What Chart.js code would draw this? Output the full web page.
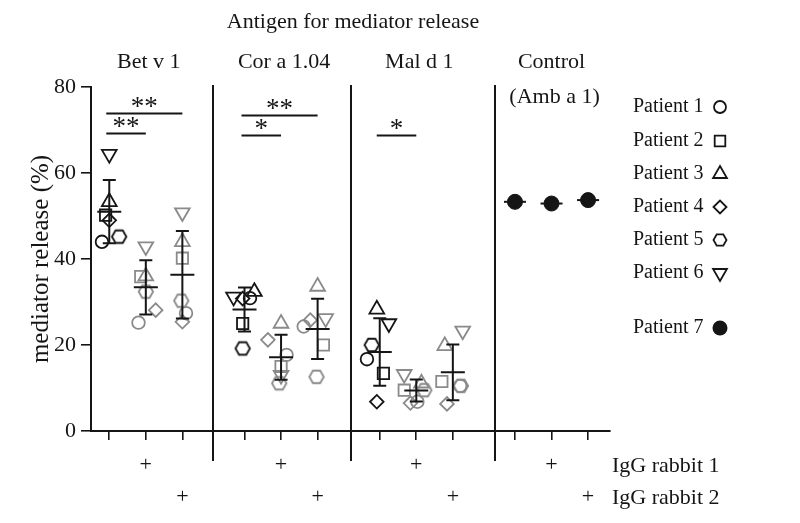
<!DOCTYPE html>
<html><head><meta charset="utf-8">
<script src="https://cdn.jsdelivr.net/npm/chart.js@4.4.1/dist/chart.umd.min.js"></script>
<style>html,body{margin:0;padding:0;background:#fff}#wrap{width:800px;height:523px;position:relative}</style>
</head><body><div id="wrap"><canvas id="c" width="800" height="523"></canvas></div>
<script>
// ---------------- data ----------------
const chartTitle = 'Antigen for mediator release';
const antigens = ['Bet v 1', 'Cor a 1.04', 'Mal d 1'];
const controlLabel = ['Control', '(Amb a 1)'];
const yAxisLabel = 'mediator release (%)';
const yTicks = [0, 20, 40, 60, 80];
const rabbitRows = ['IgG rabbit 1', 'IgG rabbit 2'];
const patientNames = ['Patient 1', 'Patient 2', 'Patient 3', 'Patient 4', 'Patient 5', 'Patient 6', 'Patient 7'];
// order of values: [Bet v 1: none, rabbit1, rabbit2, Cor a 1.04: none, r1, r2, Mal d 1: none, r1, r2]
const patient1 = [44.0, 25.2, 27.4, 30.9, 17.7, 24.3, 16.7, 6.8, 10.5];
const patient2 = [50.2, 35.9, 40.2, 25.0, 15.0, 20.0, 13.4, 9.5, 11.5];
const patient3 = [53.3, 36.0, 44.0, 32.4, 25.0, 33.6, 28.3, 11.1, 19.8];
const patient4 = [49.0, 28.1, 25.4, 30.8, 21.2, 25.8, 6.8, 6.5, 6.3];
const patient5 = [45.2, 32.4, 30.3, 19.2, 11.1, 12.6, 20.0, 9.5, 10.5];
const patient6 = [64.4, 42.9, 50.8, 31.2, 13.0, 26.2, 25.0, 13.2, 23.3];
const patient7Control = [53.3, 52.9, 53.7];
// significance brackets: group, from condition, to condition, label, height (%)
const sigGroup = [0, 0, 1, 1, 2];
const sigFrom = [0, 0, 0, 0, 0];
const sigTo = [2, 1, 2, 1, 1];
const sigText = ['**', '**', '**', '*', '*'];
const sigLevel = [74.0, 69.3, 73.5, 68.8, 68.8];

// ---------------- layout / style ----------------
const FONT = '"Liberation Serif", "Times New Roman", serif';
const BLACK = '#151515';
const GRAY = '#8a8a8a';
const GROUP_STEP = 3.7;
const DIVIDERS = [2.84, 6.6, 10.54];
// small horizontal jitter of the markers (x units)
const jitter = [
  [-0.2, -0.2, 0.1, 0.15, 0.15, -0.38, -0.35, 0.03, 0.2],
  [-0.1, -0.14, 0, -0.05, 0, 0.16, 0.1, -0.33, -0.3],
  [0, 0, 0, 0.27, 0, 0, -0.08, 0.14, -0.22],
  [0, 0.27, 0, -0.05, -0.36, -0.2, -0.08, -0.16, -0.16],
  [0.27, 0, -0.03, -0.05, -0.05, -0.03, -0.22, 0.22, 0.22],
  [0, 0, 0, -0.3, 0, 0.22, 0.25, -0.33, 0.27]
];
const xPos = (g, c) => g * GROUP_STEP + c;

function hexCanvas(color) {
  const c = document.createElement('canvas');
  const s = 18; c.width = s; c.height = s;
  const g = c.getContext('2d');
  g.strokeStyle = color; g.lineWidth = 1.8; g.beginPath();
  const r = 7.2;
  for (let k = 0; k < 6; k++) {
    const a = Math.PI / 3 * k;
    const px = s / 2 + r * Math.cos(a), py = s / 2 + r * Math.sin(a);
    k ? g.lineTo(px, py) : g.moveTo(px, py);
  }
  g.closePath(); g.stroke();
  return c;
}
const hexBlack = hexCanvas(BLACK), hexGray = hexCanvas(GRAY);

const series = [patient1, patient2, patient3, patient4, patient5, patient6];
const shapes = ['circle', 'rect', 'triangle', 'rectRot', 'hex', 'triangle'];
const radii = [6.3, 8, 8.5, 6.8, 7, 8.5];
const rotations = [0, 0, 0, 0, 0, 180];

const datasets = series.map((vals, i) => ({
  label: patientNames[i],
  data: vals.map((v, k) => ({ x: xPos(Math.floor(k / 3), k % 3) + jitter[i][k], y: v })),
  pointStyle: shapes[i] === 'hex' ? (ctx => (ctx.dataIndex % 3 === 0 ? hexBlack : hexGray)) : shapes[i],
  pointRotation: rotations[i],
  pointRadius: radii[i],
  pointHoverRadius: radii[i],
  pointBorderWidth: 1.8,
  pointBackgroundColor: 'rgba(0,0,0,0)',
  pointBorderColor: ctx => (ctx.dataIndex % 3 === 0 ? BLACK : GRAY),
  showLine: false
}));
datasets.push({
  label: patientNames[6],
  data: patient7Control.map((v, c) => ({ x: xPos(3, c), y: v })),
  pointStyle: 'circle', pointRadius: 7.5, pointHoverRadius: 7.5,
  pointBorderWidth: 1, pointBackgroundColor: BLACK, pointBorderColor: BLACK, showLine: false
});

const tickPositions = [];
for (let g = 0; g < 4; g++) for (let c = 0; c < 3; c++) tickPositions.push(xPos(g, c));
const plusLabels = [['', ''], ['+', ''], ['', '+']];

function drawMarker(ctx, shape, x, y, r, color, rot) {
  ctx.save();
  ctx.strokeStyle = color; ctx.lineWidth = 1.8; ctx.fillStyle = color;
  ctx.beginPath();
  if (shape === 'circle') ctx.arc(x, y, r, 0, Math.PI * 2);
  else if (shape === 'rect') { const s = r * Math.SQRT1_2; ctx.rect(x - s, y - s, 2 * s, 2 * s); }
  else if (shape === 'rectRot') { ctx.moveTo(x - r, y); ctx.lineTo(x, y - r); ctx.lineTo(x + r, y); ctx.lineTo(x, y + r); ctx.closePath(); }
  else if (shape === 'triangle') {
    const d = rot ? -1 : 1;
    ctx.moveTo(x, y - d * r); ctx.lineTo(x + r * 0.866, y + d * r * 0.5); ctx.lineTo(x - r * 0.866, y + d * r * 0.5); ctx.closePath();
  } else if (shape === 'hex') {
    for (let k = 0; k < 6; k++) { const a = Math.PI / 3 * k; const px = x + r * Math.cos(a), py = y + r * Math.sin(a); k ? ctx.lineTo(px, py) : ctx.moveTo(px, py); }
    ctx.closePath();
  }
  ctx.stroke();
  ctx.restore();
}

const decorations = {
  id: 'decorations',
  beforeDatasetsDraw(chart) {
    const { ctx, scales: { x, y } } = chart;
    ctx.save();
    ctx.strokeStyle = BLACK; ctx.lineWidth = 2;
    DIVIDERS.forEach(d => {
      const px = Math.round(x.getPixelForValue(d));
      ctx.beginPath(); ctx.moveTo(px, y.getPixelForValue(80) - 2); ctx.lineTo(px, y.getPixelForValue(0) + 30); ctx.stroke();
    });
    // control mean dashes
    ctx.lineWidth = 2;
    patient7Control.forEach((v, c) => {
      const px = x.getPixelForValue(xPos(3, c)), py = y.getPixelForValue(v);
      ctx.beginPath(); ctx.moveTo(px - 11, py); ctx.lineTo(px + 11, py); ctx.stroke();
    });
    ctx.restore();
  },
  afterDatasetsDraw(chart) {
    const { ctx, scales: { x, y } } = chart;
    ctx.save();
    ctx.strokeStyle = BLACK; ctx.lineWidth = 2;
    // mean ± SD error bars
    for (let k = 0; k < 9; k++) {
      const vals = series.map(s => s[k]);
      const n = vals.length;
      const mean = vals.reduce((a, b) => a + b, 0) / n;
      const sd = Math.sqrt(vals.reduce((a, b) => a + (b - mean) * (b - mean), 0) / (n - 1));
      const px = x.getPixelForValue(xPos(Math.floor(k / 3), k % 3));
      const pm = y.getPixelForValue(mean), pt = y.getPixelForValue(mean + sd), pb = y.getPixelForValue(mean - sd);
      ctx.beginPath();
      ctx.moveTo(px, pt); ctx.lineTo(px, pb);
      ctx.moveTo(px - 6.5, pt); ctx.lineTo(px + 6.5, pt);
      ctx.moveTo(px - 6.5, pb); ctx.lineTo(px + 6.5, pb);
      ctx.moveTo(px - 12, pm); ctx.lineTo(px + 12, pm);
      ctx.stroke();
    }
    // significance brackets
    ctx.fillStyle = BLACK;
    ctx.font = '27px ' + FONT; ctx.textAlign = 'center'; ctx.textBaseline = 'alphabetic';
    sigText.forEach((t, i) => {
      const x1 = x.getPixelForValue(xPos(sigGroup[i], sigFrom[i])) - 3;
      const x2 = x.getPixelForValue(xPos(sigGroup[i], sigTo[i]));
      const py = Math.round(y.getPixelForValue(sigLevel[i])) + 0.5;
      ctx.beginPath(); ctx.moveTo(x1, py); ctx.lineTo(x2, py); ctx.stroke();
      ctx.fillText(t, (x1 + x2) / 2, py + 1);
    });
    ctx.restore();
  },
  afterDraw(chart) {
    const { ctx, scales: { x } } = chart;
    ctx.save();
    ctx.fillStyle = BLACK;
    ctx.font = '22px ' + FONT; ctx.textAlign = 'center'; ctx.textBaseline = 'middle';
    ctx.fillText(chartTitle, 353, 22);
    antigens.forEach((a, g) => ctx.fillText(a, x.getPixelForValue(xPos(g, 1)) + 3, 62));
    ctx.fillText(controlLabel[0], x.getPixelForValue(xPos(3, 1)), 62);
    ctx.fillText(controlLabel[1], x.getPixelForValue(xPos(3, 1)) + 3, 97);
    // rabbit rows
    ctx.textAlign = 'left';
    ctx.fillText(rabbitRows[0], 612, 466);
    ctx.fillText(rabbitRows[1], 612, 498);
    // legend
    const rows = [107, 141, 174, 207, 240, 273, 328];
    ctx.font = '20px ' + FONT;
    patientNames.forEach((nm, i) => {
      ctx.fillStyle = BLACK;
      ctx.fillText(nm, 633, rows[i]);
      if (i < 6) drawMarker(ctx, shapes[i], 720, rows[i], [6, 7.5, 8, 6.5, 6.5, 8][i], BLACK, rotations[i]);
      else { ctx.beginPath(); ctx.arc(720, rows[i], 7.5, 0, Math.PI * 2); ctx.fill(); }
    });
    ctx.restore();
  }
};

new Chart(document.getElementById('c'), {
  type: 'scatter',
  data: { datasets },
  options: {
    responsive: false,
    animation: false,
    devicePixelRatio: 1,
    layout: { padding: { top: 87, right: 190, bottom: 0, left: 0 } },
    plugins: { legend: { display: false }, tooltip: { enabled: false }, title: { display: false } },
    scales: {
      x: {
        type: 'linear', position: 'bottom', min: -0.5, max: 13.7,
        afterBuildTicks: s => { s.ticks = tickPositions.map(v => ({ value: v })); },
        afterFit: s => { s.height = 92; },
        ticks: {
          autoSkip: false, maxRotation: 0, minRotation: 0, padding: 9, color: BLACK,
          font: { family: FONT, size: 22, lineHeight: 32 / 22 },
          callback: (v, i) => plusLabels[i % 3]
        },
        grid: { drawOnChartArea: false, drawTicks: true, tickLength: 9, color: BLACK, lineWidth: 1.6 },
        border: { display: true, color: BLACK, width: 2 }
      },
      y: {
        min: 0, max: 80,
        afterBuildTicks: s => { s.ticks = yTicks.map(v => ({ value: v })); },
        afterFit: s => { s.width = 91; },
        ticks: { color: BLACK, padding: 5, font: { family: FONT, size: 22 } },
        grid: { drawOnChartArea: false, drawTicks: true, tickLength: 10, color: BLACK, lineWidth: 1.6 },
        border: { display: true, color: BLACK, width: 2 },
        title: { display: true, text: yAxisLabel, color: BLACK, font: { family: FONT, size: 25 }, padding: { top: 26, bottom: 26 } }
      }
    }
  },
  plugins: [decorations]
});
</script>
</body></html>
